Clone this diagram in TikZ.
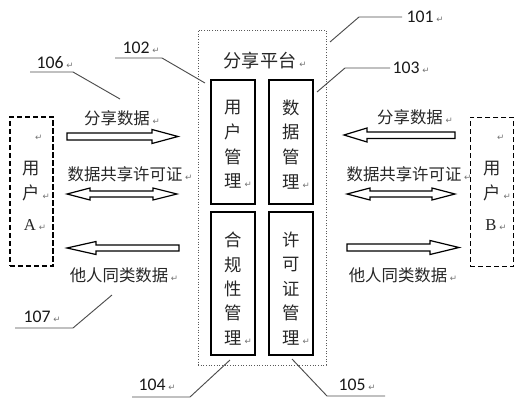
\documentclass[tikz,border=0pt]{standalone}
\usepackage{fontspec}
\setmainfont{Liberation Serif}
\newfontfamily\cjk{Noto Sans CJK SC}
\newfontfamily\numf{Carlito}
\newfontfamily\symf{DejaVu Sans}
\newcommand\ret{\rlap{\,{\symf\fontsize{6.5}{7}\selectfont\textcolor{black!55}{↵}}}}
\begin{document}
\begin{tikzpicture}[x=0.75pt,y=-0.75pt,
  lead/.style={draw=black!70,line width=0.7pt},
  blk/.style={draw=black,line width=0.9pt,fill=white,line join=miter},
  cn/.style={font=\cjk\fontsize{12.3}{14}\selectfont,text=black!85,inner sep=0pt},
  num/.style={font=\numf\fontsize{13.3}{14}\selectfont,text=black!90,inner sep=0pt},
  vbox/.style={draw=black,line width=0.8pt,minimum width=33pt,inner sep=0pt},
  vtext/.style={font=\cjk\fontsize{13}{18.6}\selectfont,text=black!85,align=center,inner sep=0pt},
  vtextb/.style={font=\cjk\fontsize{13}{18.3}\selectfont,text=black!85,align=center,inner sep=0pt},
  userbox/.style={draw=black,line width=1.1pt,dash pattern=on 3.8pt off 2.2pt,minimum width=32.5pt,minimum height=112pt,inner sep=0pt},
  platform/.style={draw=black!65,line width=0.6pt,dash pattern=on 0.7pt off 1.3pt,minimum width=96pt,minimum height=251.25pt,inner sep=0pt}
]
\useasboundingbox (0,0) rectangle (525,407);

% platform 101
\node[platform] (plat) at (262,197.5) {};
\node[font=\cjk\fontsize{13.6}{15}\selectfont,text=black!85,inner sep=0pt] (platt) at (260,61) {分享平台\ret};

% inner boxes
\node[vbox,minimum height=93pt] (b102) at (233,142) {};
\node[vtext] (t102) at (233,144.5) {用\\户\\管\\理\ret};
\node[vbox,minimum height=93pt] (b103) at (291,142) {};
\node[vtext] (t103) at (291,144.5) {数\\据\\管\\理\ret};
\node[vbox,minimum height=107.25pt] (b104) at (233,283.5) {};
\node[vtextb] (t104) at (233,288.5) {合\\规\\性\\管\\理\ret};
\node[vbox,minimum height=107.25pt] (b105) at (291,283.5) {};
\node[vtextb] (t105) at (291,288.5) {许\\可\\证\\管\\理\ret};

% user boxes
\node[userbox] (ua) at (31.5,191.5) {};
\node[inner sep=0pt] (ua0) at (33,138) {\ret};
\node[vtext] (uat) at (31,181) {用\\户\ret};
\node[font=\fontsize{12.5}{14}\selectfont,text=black!85,inner sep=0pt] (uaA) at (30,225) {A\ret};
\node[userbox] (ub) at (492,192) {};
\node[inner sep=0pt] (ub0) at (495,138) {\ret};
\node[vtext] (ubt) at (492,181) {用\\户\ret};
\node[font=\fontsize{12.5}{14}\selectfont,text=black!85,inner sep=0pt] (ubB) at (491,225) {B\ret};

% left arrows
\draw[blk] (67,133) -- (152,133) -- (152,129.5) -- (178,136.5) -- (152,143.5) -- (152,140) -- (67,140) -- cycle;
\draw[blk] (67,194) -- (90,188) -- (90,191) -- (153,191) -- (153,188) -- (177,194) -- (153,200) -- (153,197) -- (90,197) -- (90,200) -- cycle;
\draw[blk] (67,248) -- (96,241.5) -- (96,245) -- (179,245) -- (179,251) -- (96,251) -- (96,254.5) -- cycle;
% right arrows
\draw[blk] (344,135) -- (367,128) -- (367,132) -- (455,132) -- (455,138.5) -- (367,138.5) -- (367,142) -- cycle;
\draw[blk] (347,194) -- (370,188) -- (370,191) -- (432,191) -- (432,188) -- (455,194) -- (432,200) -- (432,197) -- (370,197) -- (370,200) -- cycle;
\draw[blk] (347,244) -- (430,244) -- (430,240.5) -- (459,247.5) -- (430,254.5) -- (430,251) -- (347,251) -- cycle;

% arrow labels
\node[cn] (la1) at (117,118) {分享数据\ret};
\node[cn] (la2) at (125,174) {数据共享许可证\ret};
\node[cn] (la3) at (119,275) {他人同类数据\ret};
\node[cn] (lb1) at (410,117) {分享数据\ret};
\node[cn] (lb2) at (404,174) {数据共享许可证\ret};
\node[cn] (lb3) at (398,275) {他人同类数据\ret};

% reference numbers and leader lines
\node[num] (n101) at (420,17) {101\ret};
\coordinate (e101) at (330,42);
\draw[lead] (e101) -- (359,17) -- (402,17);
\node[num] (n103) at (406,68) {103\ret};
\coordinate (e103) at (317,92);
\draw[lead] (e103) -- (345,68) -- (390,68);
\node[num] (n102) at (136,48) {102\ret};
\coordinate (e102) at (205,83);
\draw[lead] (115,58) -- (162,58) -- (e102);
\node[num] (n106) at (50,63) {106\ret};
\coordinate (e106) at (120,99);
\draw[lead] (30,72) -- (73,72) -- (e106);
\node[num] (n107) at (37,317) {107\ret};
\coordinate (e107) at (112,295);
\draw[lead] (15,328) -- (73,328) -- (e107);
\node[num] (n104) at (152,385) {104\ret};
\coordinate (e104) at (230,360);
\draw[lead] (132,397) -- (190,397) -- (e104);
\node[num] (n105) at (352,385) {105\ret};
\coordinate (e105) at (292,359);
\draw[lead] (e105) -- (327,396) -- (385,396);
\end{tikzpicture}
\end{document}
